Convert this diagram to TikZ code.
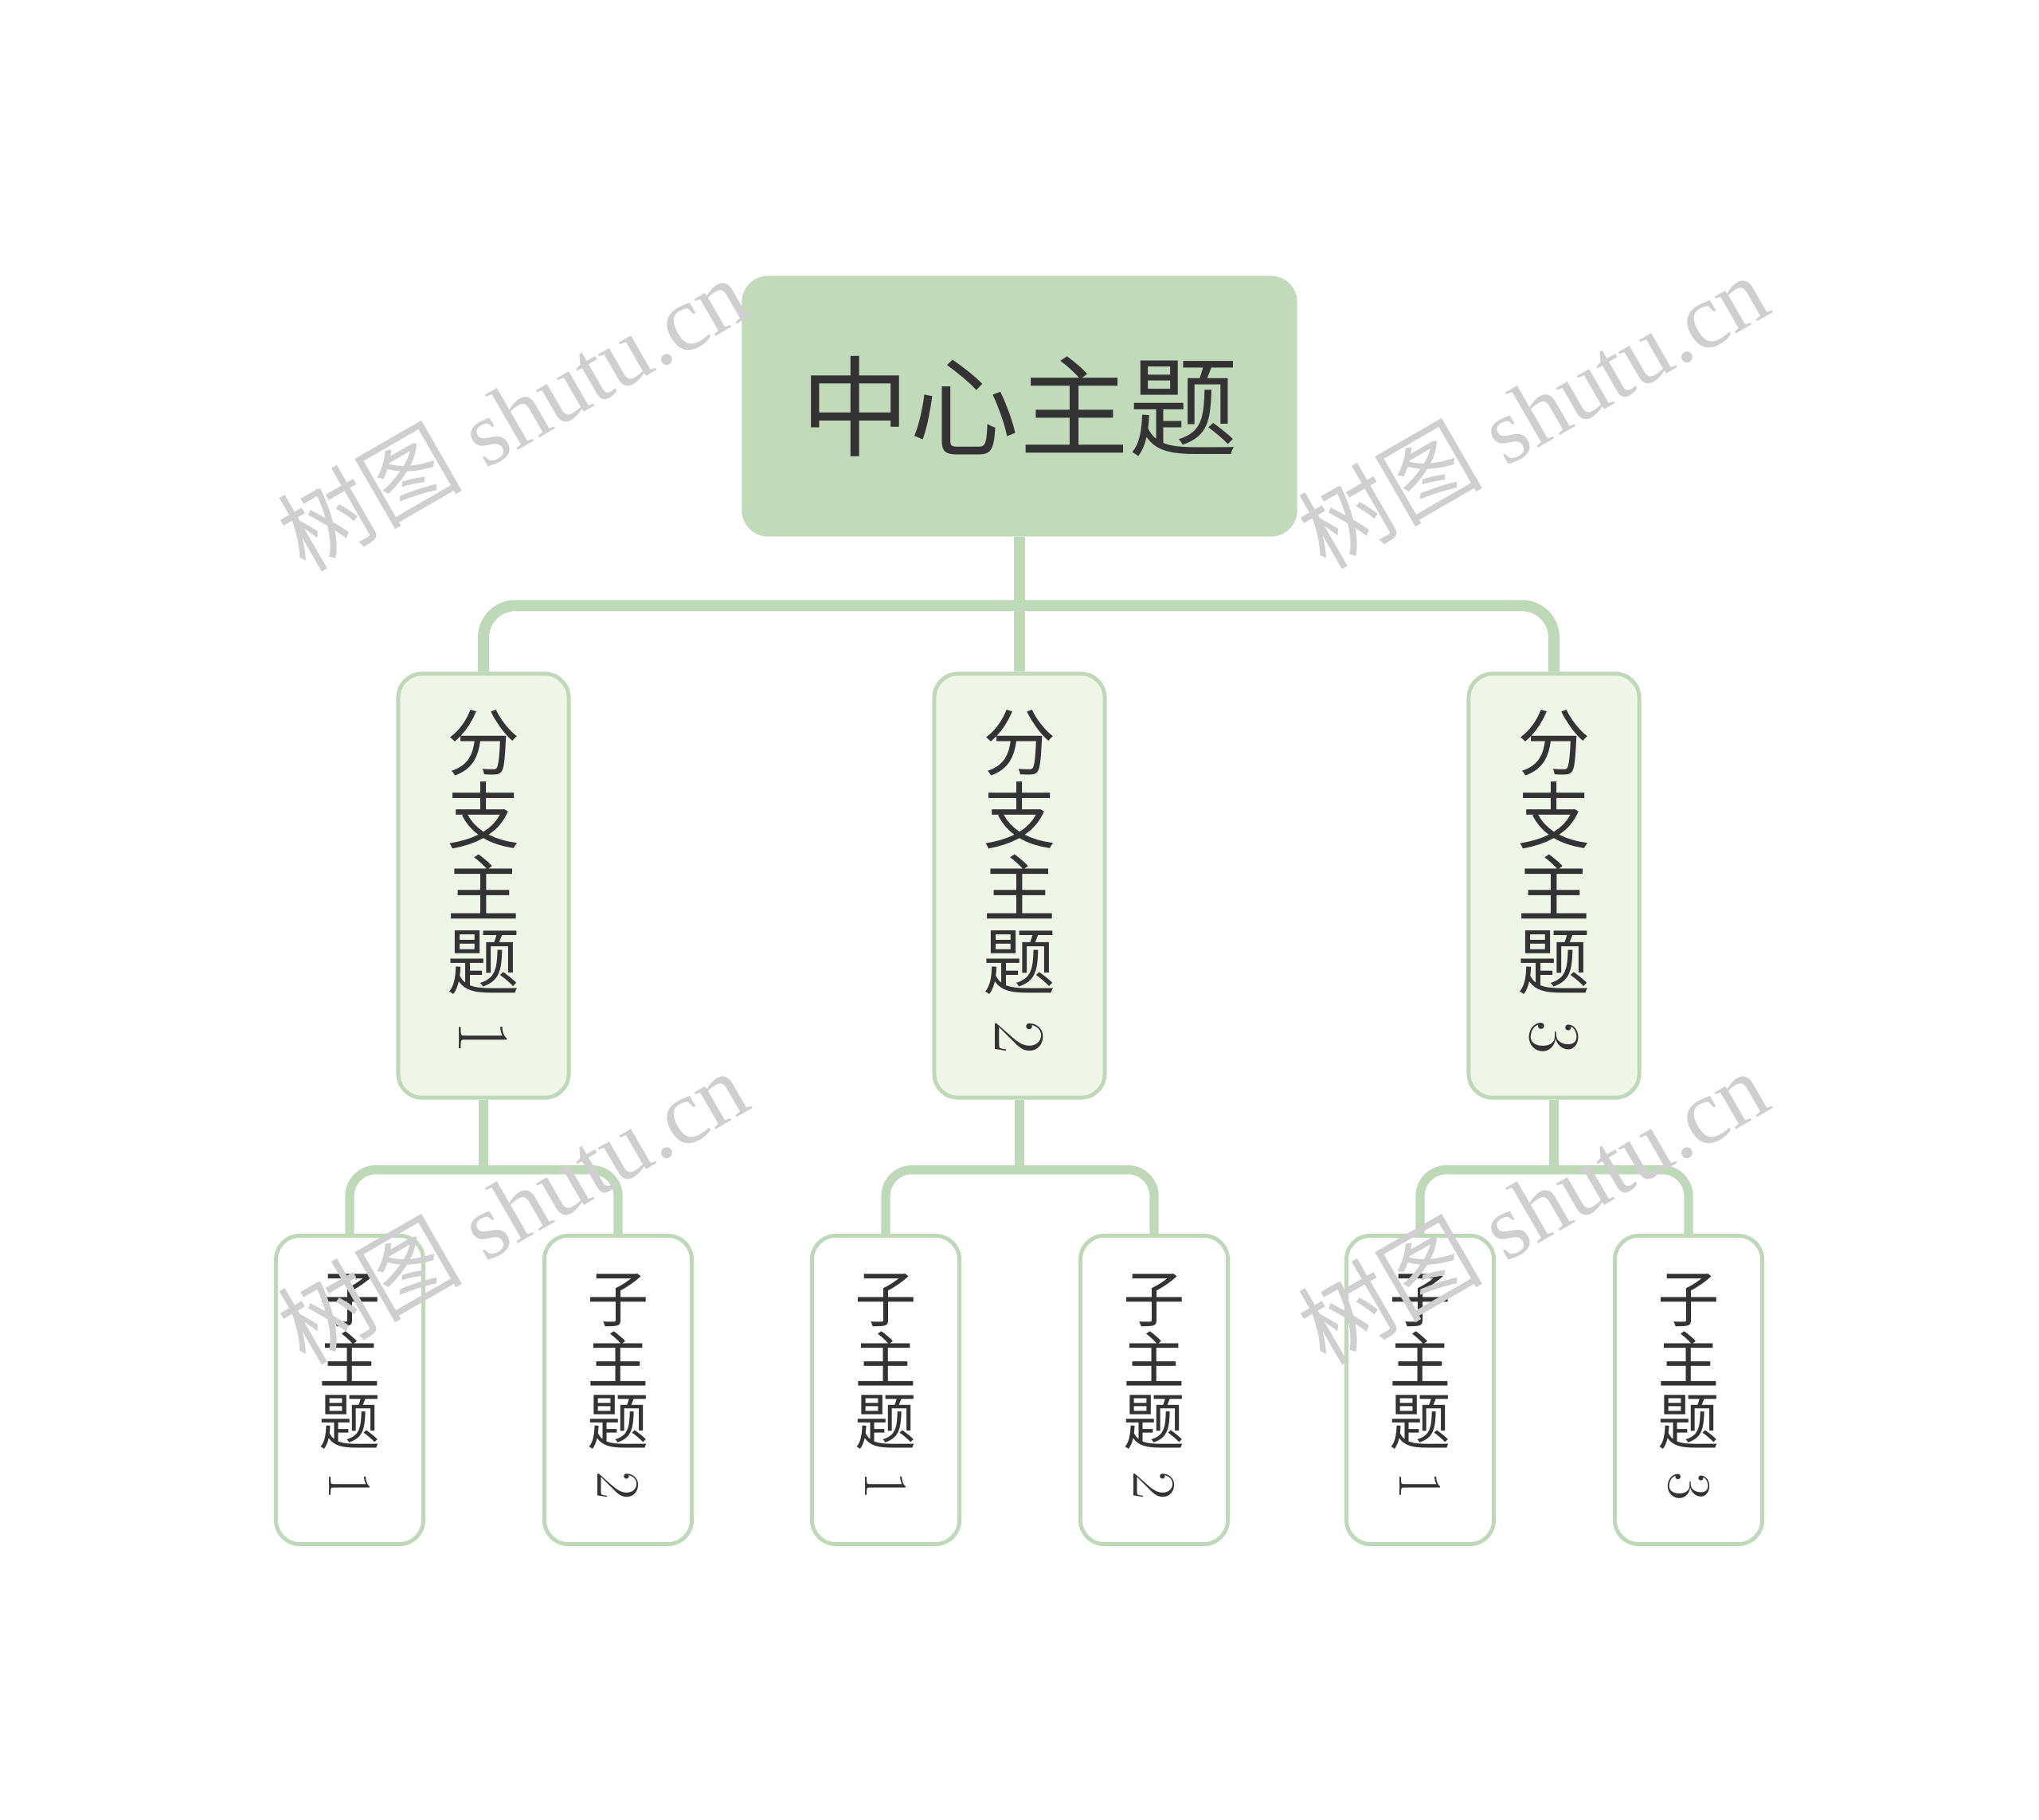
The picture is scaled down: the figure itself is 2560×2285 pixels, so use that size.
\documentclass[tikz,border=0pt]{standalone}
\usepackage{fontspec}
\newfontfamily\cjk{Noto Sans CJK SC}
\newfontfamily\wmserif{Liberation Serif}
\definecolor{rootfill}{HTML}{C0DABA}
\definecolor{leaffill}{HTML}{EFF6E8}
\definecolor{edge}{HTML}{BED9B8}
\definecolor{ink}{HTML}{333333}
\newcommand\branchtxt[1]{分\\支\\主\\题\\\rotatebox[origin=c]{-90}{\rmfamily #1}}
\newcommand\subtxt[1]{子\\主\\题\\\rotatebox[origin=c]{-90}{\rmfamily #1}}

\begin{document}
\begin{tikzpicture}[x=0.01cm,y=-0.01cm,
  root/.style={fill=rootfill,rounded corners=0.33cm,minimum width=6.97cm,minimum height=3.27cm,
    inner sep=0pt,text=ink,font=\cjk\fontsize{39}{39}\selectfont},
  branch/.style={draw=edge,line width=1.4pt,fill=leaffill,rounded corners=0.3cm,minimum width=2.14cm,
    minimum height=5.32cm,inner sep=0pt,align=center,text=ink,font=\cjk\fontsize{26}{26}\selectfont},
  leaf/.style={branch,fill=white,minimum width=1.85cm,minimum height=3.87cm,font=\cjk\fontsize{22}{22}\selectfont},
  link/.style={draw=edge,line width=4pt,rounded corners=0.4cm},
  twig/.style={link,line width=3.2pt,rounded corners=0.33cm},
  wmark/.style={rotate=30,text=black!19,font=\wmserif\fontsize{33}{33}\selectfont}]
  \useasboundingbox (0,0) rectangle (2560,2285);
  \node[root] (root) at (1280,510) {中心主题};
  \node[branch] (b1) at (607,1112) {\branchtxt{1}};
  \node[branch] (b2) at (1280,1112) {\branchtxt{2}};
  \node[branch] (b3) at (1951,1112) {\branchtxt{3}};
  \node[leaf] (s11) at (439,1745) {\subtxt{1}};
  \node[leaf] (s12) at (776,1745) {\subtxt{2}};
  \node[leaf] (s21) at (1112,1745) {\subtxt{1}};
  \node[leaf] (s22) at (1449,1745) {\subtxt{2}};
  \node[leaf] (s31) at (1783,1745) {\subtxt{1}};
  \node[leaf] (s32) at (2120,1745) {\subtxt{3}};
  \path (root.south) ++(0,86) coordinate (jr);
  \path (b1.south) ++(0,88) coordinate (j1);
  \path (b2.south) ++(0,88) coordinate (j2);
  \path (b3.south) ++(0,88) coordinate (j3);
  \draw[link] (root.south) -- (b2.north);
  \draw[link] (b1.north) |- (jr) -| (b3.north);
  \draw[twig] (b1.south) -- (j1);
  \draw[twig] (s11.north) |- (j1) -| (s12.north);
  \draw[twig] (b2.south) -- (j2);
  \draw[twig] (s21.north) |- (j2) -| (s22.north);
  \draw[twig] (b3.south) -- (j3);
  \draw[twig] (s31.north) |- (j3) -| (s32.north);
  \node[wmark] (w1) at (643,519) {{\cjk 树图} shutu.cn};
  \node[wmark] (w2) at (1924,516) {{\cjk 树图} shutu.cn};
  \node[wmark] (w3) at (643,1515) {{\cjk 树图} shutu.cn};
  \node[wmark] (w4) at (1924,1515) {{\cjk 树图} shutu.cn};
\end{tikzpicture}
\end{document}
